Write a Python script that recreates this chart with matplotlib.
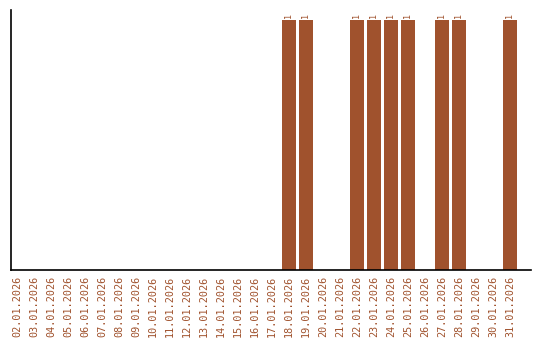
import matplotlib
matplotlib.use("Agg")
import matplotlib.pyplot as plt

dates = [f"{d:02d}.01.2026" for d in range(2, 32)]
counts = [0] * 16 + [1, 1, 0, 0, 1, 1, 1, 1, 0, 1, 1, 0, 0, 1]

bar_color = "#a0522d"
label_color = "#a0522d"

fig = plt.figure(figsize=(5.4, 3.4), dpi=100)
ax = fig.add_axes([11 / 540, 70 / 340, 520 / 540, 260 / 340])

x = list(range(len(dates)))
ax.bar(x, counts, width=0.82, color=bar_color)

for xi, c in zip(x, counts):
    if c:
        ax.text(xi, c + 0.01, str(c), rotation=90, ha="center", va="bottom",
                fontsize=6, color=label_color, family="DejaVu Sans Mono")

ax.set_xlim(-0.35, 30.24)
ax.set_ylim(0, 1.04)
ax.set_xticks(x)
ax.set_xticklabels(dates, rotation=90, fontsize=7.3, color=label_color,
                   family="DejaVu Sans Mono")
ax.tick_params(axis="x", length=0, pad=4)
ax.set_yticks([])
ax.spines["top"].set_visible(False)
ax.spines["right"].set_visible(False)
for s in ("left", "bottom"):
    ax.spines[s].set_linewidth(1.2)

fig.savefig("out.png", dpi=100)
